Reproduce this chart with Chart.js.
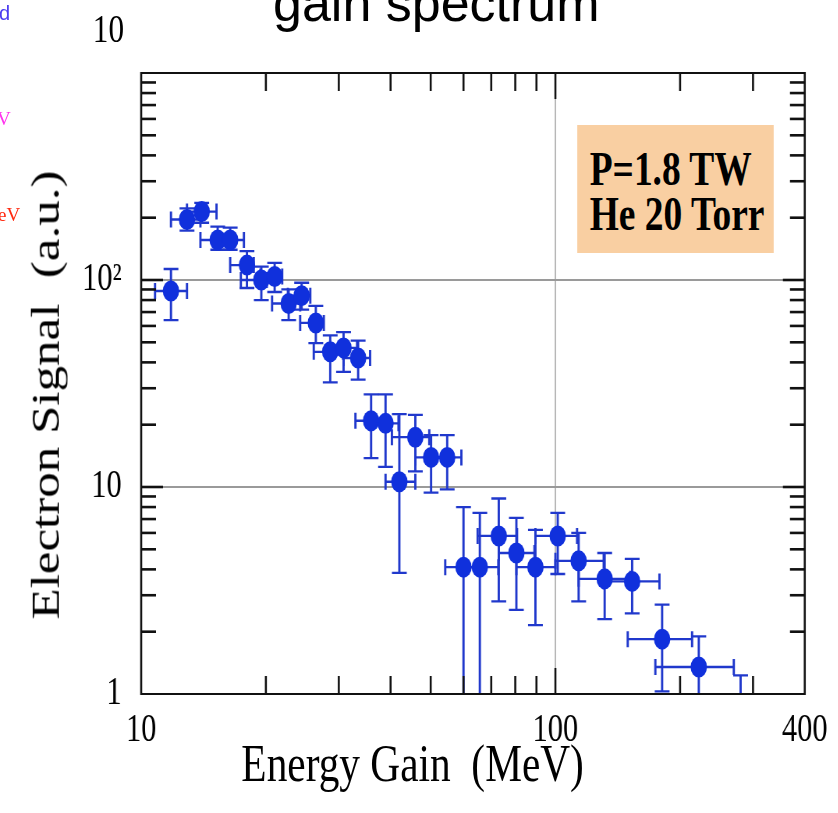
<!DOCTYPE html>
<html>
<head>
<meta charset="utf-8">
<title>gain spectrum</title>
<script src="https://cdn.jsdelivr.net/npm/chart.js@4.4.0/dist/chart.umd.min.js"></script>
<style>
  body { margin: 0; background: #fff; }
  #page { position: relative; width: 838px; height: 813px; overflow: hidden; background: #fff; }
  /* the source figure is squeezed sideways, so the whole plot is drawn wide and scaled */
  #plot { position: absolute; left: 0; top: 0; width: 1074px; height: 813px;
          transform: scaleX(0.78); transform-origin: 0 0; }
  #plot canvas { position: absolute; left: 0; top: 0; }
  .serif { font-family: 'Liberation Serif', 'Times New Roman', serif; color: #000;
           position: absolute; line-height: 1; white-space: pre; }
  #ytitle { left: 59px; top: 395px; font-size: 51px; transform: translate(-50%, -50%) rotate(-90deg); }
  #xtitle { left: 529px; top: 763px; font-size: 53px; transform: translate(-50%, -50%); }
  #toplabel { left: 139px; top: 29px; font-size: 40px; transform: translate(-50%, -50%); }
  #box { position: absolute; left: 740px; top: 125px; width: 252px; height: 128px; background: #f9cfa2; }
  .boxline { left: 756px; font-size: 48px; font-weight: bold; }
  #title { position: absolute; left: 273px; top: -23px; font-family: 'Liberation Sans', Arial, sans-serif;
           font-size: 52px; line-height: 1; color: #000; white-space: pre; }
  .frag { position: absolute; line-height: 1; white-space: pre; }
</style>
</head>
<body>
<div id="page">
  <div id="plot">
    <canvas id="chart" width="1074" height="813"></canvas>
    <div id="box"></div>
    <div class="serif boxline" style="top:145px">P=1.8 TW</div>
    <div class="serif boxline" style="top:190px">He 20 Torr</div>
    <div class="serif" id="ytitle">Electron Signal  (a.u.)</div>
    <div class="serif" id="xtitle">Energy Gain  (MeV)</div>
    <div class="serif" id="toplabel">10</div>
  </div>
  <div id="title">gain spectrum</div>
  <div class="frag" style="left:-1px;top:3px;font-family:'Liberation Sans',sans-serif;font-size:20px;color:#4b3cf0">d</div>
  <div class="frag" style="left:-3px;top:109px;font-family:'Liberation Serif',serif;font-size:19px;color:#ff33ee">V</div>
  <div class="frag" style="left:-2px;top:205px;font-family:'Liberation Serif',serif;font-size:19px;color:#ff2a10">eV</div>
</div>

<script>
(function () {
    'use strict';

    // energy gain (MeV) and electron signal (a.u.)
    const energy   = [11.8, 12.9, 14.0, 15.3, 16.4, 18.0, 19.5, 21.0, 22.7, 24.4, 26.4, 28.6, 30.8, 33.4,
                      35.9, 38.9, 42.0, 45.9, 50.1, 54.8, 60.0, 65.7, 73.0, 80.5, 89.5, 101.3, 113.8, 131.5,
                      153.2, 181.0, 221.9, 280];
    const energyLo = [10.8, 11.8, 12.9, 13.9, 15.2, 16.4, 17.4, 19.4, 20.7, 22.6, 24.2, 26.1, 28.6, 30.8,
                      32.9, 35.7, 38.9, 40.3, 45.9, 50.0, 54.2, 60.0, 64.9, 73.0, 80.5, 89.5, 100, 113.8,
                      130.8, 149.5, 174.3, 250];
    const energyHi = [12.9, 13.9, 15.2, 16.4, 17.7, 18.7, 20.1, 21.9, 24.2, 25.6, 27.6, 30.7, 33.2, 35.7,
                      38.9, 41.8, 45.9, 49.6, 54.6, 59.3, 65.9, 72.8, 80.8, 89.0, 100, 112.8, 130.8, 151.7,
                      178.3, 213.8, 269.6, 310];
    const signal   = [88.5, 196, 214, 156, 156, 118, 100, 104, 77, 84, 62, 45, 47, 42,
                      20.9, 20.3, 10.6, 17.4, 13.9, 13.9, 4.1, 4.1, 5.8, 4.8, 4.1, 5.8, 4.4, 3.6,
                      3.5, 1.84, 1.35, 0.6];
    const signalHi = [113, 222, 236, 181, 179, 138, 116, 121, 90, 97, 75, 54, 56, 51,
                      28, 28, 22.5, 22.3, 17.8, 17.8, 8.0, 7.5, 8.8, 7.1, 6.2, 7.5, 6.0, 4.8,
                      4.5, 2.7, 1.9, 1.23];
    const signalLo = [64, 173, 189, 140, 140, 91.5, 80, 87.5, 64, 72, 49.5, 32, 36, 33,
                      13.8, 12.5, 3.85, 11.9, 9.4, 9.75, 0.1, 0.1, 2.8, 2.55, 2.15, 3.8, 2.8, 2.3,
                      2.45, 1.03, 0.1, 0.1];

    // axes
    const xTickValues = [10, 100, 400];
    const xTickLabels = ['10', '100', '400'];
    const yTickValues = [1, 10, 100];
    const yTickLabels = ['1', '10', '10\u00b2'];
    const xGrid = [100];
    const yGrid = [10, 100];
    const xMinor = [20, 30, 40, 50, 60, 70, 80, 90, 200, 300];
    const yMinor = [2, 3, 4, 5, 6, 7, 8, 9, 20, 30, 40, 50, 60, 70, 80, 90, 200, 300, 400, 500, 600, 700, 800, 900];

    const pointColor = '#1030dc';
    const barColor = '#2038cc';

    function seg(ctx, x1, y1, x2, y2) {
        ctx.beginPath();
        ctx.moveTo(x1, y1);
        ctx.lineTo(x2, y2);
        ctx.stroke();
    }

    const frameAndBars = {
        id: 'frameAndBars',
        beforeDatasetsDraw(chart) {
            const {ctx, chartArea: a, scales: {x, y}} = chart;
            ctx.save();

            // grey grid lines
            ctx.strokeStyle = '#9a9a9a';
            ctx.lineWidth = 2;
            yGrid.forEach(function (v) {
                const py = y.getPixelForValue(v);
                seg(ctx, a.left, py, a.right, py);
            });
            ctx.lineWidth = 1.4;
            xGrid.forEach(function (v) {
                const px = x.getPixelForValue(v);
                seg(ctx, px, a.top, px, a.bottom);
            });

            // error bars
            ctx.beginPath();
            ctx.rect(a.left, a.top, a.right - a.left, a.bottom - a.top);
            ctx.clip();
            ctx.strokeStyle = barColor;
            energy.forEach(function (e, i) {
                const px = x.getPixelForValue(e);
                const py = y.getPixelForValue(signal[i]);
                const top = y.getPixelForValue(signalHi[i]);
                const bot = y.getPixelForValue(signalLo[i]);
                const l = x.getPixelForValue(energyLo[i]);
                const r = x.getPixelForValue(energyHi[i]);
                ctx.lineWidth = 2.9;
                seg(ctx, px, top, px, bot);
                seg(ctx, l, py - 8, l, py + 8);
                seg(ctx, r, py - 8, r, py + 8);
                ctx.lineWidth = 2.3;
                seg(ctx, l, py, r, py);
                seg(ctx, px - 9.5, top, px + 9.5, top);
                seg(ctx, px - 9.5, bot, px + 9.5, bot);
            });
            ctx.restore();
        },
        afterDatasetsDraw(chart) {
            const {ctx, chartArea: a, scales: {x, y}} = chart;
            ctx.save();
            ctx.strokeStyle = '#111';

            // tick marks pointing inwards on all four sides
            ctx.lineWidth = 2.6;
            yMinor.concat(yGrid).forEach(function (v) {
                const py = y.getPixelForValue(v);
                const len = yGrid.includes(v) ? 28 : 19;
                seg(ctx, a.left, py, a.left + len, py);
                seg(ctx, a.right, py, a.right - len, py);
            });
            xMinor.concat(xGrid).forEach(function (v) {
                const px = x.getPixelForValue(v);
                const len = xGrid.includes(v) ? 26 : 18;
                seg(ctx, px, a.top, px, a.top + len);
                seg(ctx, px, a.bottom, px, a.bottom - len);
            });

            // frame
            ctx.lineWidth = 2;
            seg(ctx, a.left, a.top, a.right, a.top);
            seg(ctx, a.left, a.bottom, a.right, a.bottom);
            ctx.lineWidth = 2.6;
            seg(ctx, a.left, a.top - 1, a.left, a.bottom + 1);
            seg(ctx, a.right, a.top - 1, a.right, a.bottom + 1);
            ctx.restore();
        }
    };

    const tickFont = {family: "'Liberation Serif', 'Times New Roman', serif", size: 39};

    new Chart(document.getElementById('chart'), {
        type: 'scatter',
        data: {
            datasets: [{
                label: 'P=1.8 TW, He 20 Torr',
                data: energy.map(function (e, i) { return {x: e, y: signal[i]}; }),
                backgroundColor: pointColor,
                borderWidth: 0,
                pointRadius: 10.5,
                pointHoverRadius: 10.5,
                clip: {left: 20, top: 20, right: 20, bottom: 0}
            }]
        },
        options: {
            responsive: false,
            animation: false,
            layout: {
                padding: {left: 0, right: 42, top: 73, bottom: 59}
            },
            scales: {
                x: {
                    type: 'logarithmic',
                    position: 'bottom',
                    min: 10,
                    max: 400,
                    grid: {display: false, drawTicks: false},
                    border: {display: false},
                    afterBuildTicks: function (scale) {
                        scale.ticks = xTickValues.map(function (v) { return {value: v}; });
                    },
                    afterFit: function (scale) { scale.height = 60; },
                    ticks: {
                        autoSkip: false,
                        maxRotation: 0,
                        padding: 13,
                        color: '#000',
                        font: tickFont,
                        callback: function (value) {
                            return xTickLabels[xTickValues.indexOf(value)];
                        }
                    }
                },
                y: {
                    type: 'logarithmic',
                    min: 1,
                    max: 1000,
                    grid: {display: false, drawTicks: false},
                    border: {display: false},
                    afterBuildTicks: function (scale) {
                        scale.ticks = yTickValues.map(function (v) { return {value: v}; });
                    },
                    afterFit: function (scale) { scale.width = 181; },
                    ticks: {
                        autoSkip: false,
                        padding: 25,
                        color: '#000',
                        font: tickFont,
                        callback: function (value) {
                            return yTickLabels[yTickValues.indexOf(value)];
                        }
                    }
                }
            },
            plugins: {
                legend: {display: false},
                tooltip: {enabled: false}
            }
        },
        plugins: [frameAndBars]
    });

})();
</script>
</body>
</html>
